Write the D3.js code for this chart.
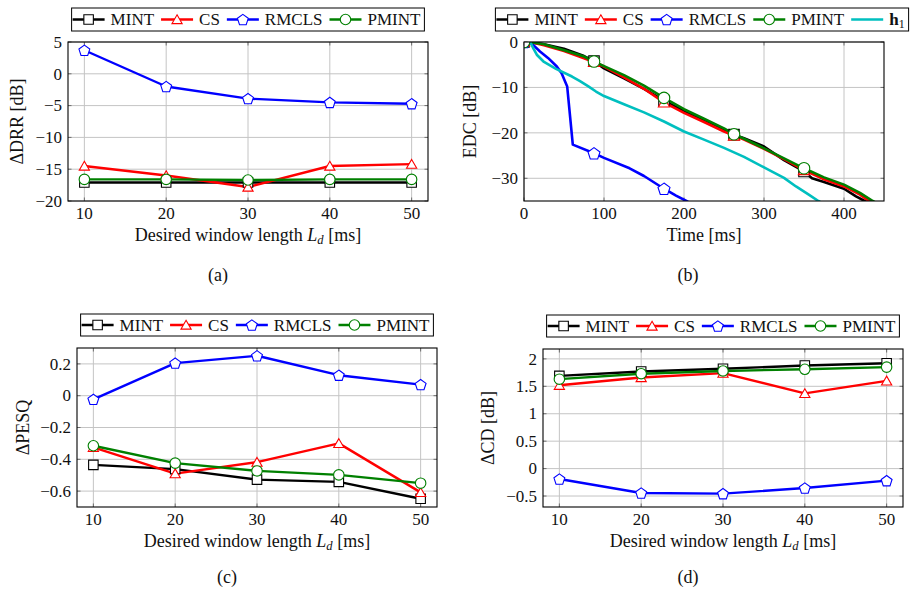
<!DOCTYPE html>
<html>
<head>
<meta charset="utf-8">
<script src="https://cdn.jsdelivr.net/npm/d3@7"></script>
<style>
  html, body { margin: 0; padding: 0; background: #fff; }
  svg text { font-family: "Liberation Serif", "DejaVu Serif", "Times New Roman", serif; }
</style>
</head>
<body>
<svg id="fig" width="913" height="589"></svg>
<script>
// ---------- data ----------
const windowLengths = [10, 20, 30, 40, 50];          // desired window length L_d [ms]

// (a) ΔDRR [dB]
const drrMint  = [-17.1, -17.1, -17.1, -17.1, -17.1];
const drrCs    = [-14.5, -16.0, -17.8, -14.5, -14.2];
const drrRmcls = [3.7, -2.0, -3.9, -4.5, -4.7];
const drrPmint = [-16.6, -16.6, -16.7, -16.6, -16.6];

// (c) ΔPESQ
const pesqMint  = [-0.435, -0.462, -0.528, -0.542, -0.648];
const pesqCs    = [-0.325, -0.490, -0.418, -0.300, -0.608];
const pesqRmcls = [-0.023, 0.205, 0.251, 0.129, 0.070];
const pesqPmint = [-0.315, -0.424, -0.473, -0.498, -0.550];

// (d) ΔCD [dB]
const cdMint  = [1.69, 1.77, 1.82, 1.88, 1.92];
const cdCs    = [1.52, 1.66, 1.74, 1.37, 1.60];
const cdRmcls = [-0.19, -0.445, -0.457, -0.354, -0.22];
const cdPmint = [1.63, 1.73, 1.78, 1.81, 1.85];

// (b) energy decay curves: time [ms] and EDC [dB]
const edcMarkTimes = [0, 87.5, 175, 262.5, 350];
const edcTimeMint = [0, 10, 25, 50, 75, 87.5, 100, 125, 150, 175, 200, 225, 250, 262.5, 275, 300, 325, 350, 360, 375, 400, 415, 426, 440];
const edcMint     = [0, -0.1, -0.5, -1.5, -3.1, -4.2, -5.8, -8.0, -10.3, -12.9, -15.2, -17.3, -19.5, -20.4, -21.2, -23.0, -26.0, -28.5, -30.0, -30.8, -32.3, -34.0, -35.0, -36.0];
const edcTimeCs   = [0, 10, 25, 50, 75, 87.5, 100, 125, 150, 175, 200, 225, 250, 262.5, 275, 300, 325, 350, 375, 400, 420, 431, 445];
const edcCs       = [0, -0.1, -0.7, -2.0, -3.6, -4.4, -5.4, -7.8, -10.3, -13.3, -15.6, -17.6, -19.7, -20.6, -21.5, -23.5, -25.8, -28.2, -30.2, -31.8, -33.6, -35.0, -36.2];
const edcTimeRmcls = [0, 10, 20, 30, 41, 47, 54, 61, 87.5, 100, 132, 150, 175, 190, 203, 262.5];
const edcRmcls     = [0, -0.4, -2.1, -3.5, -5.4, -6.9, -9.8, -22.6, -24.5, -25.5, -27.8, -29.5, -32.3, -33.8, -35.0, -41.0];
const edcTimePmint = [0, 10, 25, 50, 75, 87.5, 100, 125, 150, 175, 200, 225, 250, 262.5, 275, 300, 325, 350, 375, 400, 420, 436, 450];
const edcPmint     = [0, -0.1, -0.5, -1.8, -3.2, -4.3, -5.3, -7.3, -9.6, -12.3, -14.8, -16.9, -19.0, -20.3, -21.3, -23.4, -25.6, -27.8, -29.8, -31.4, -33.2, -35.0, -36.4];
const edcTimeH1 = [0, 8, 12, 16, 25, 40, 60, 70, 80, 90, 100, 125, 150, 175, 200, 225, 250, 275, 300, 325, 340, 355, 368, 380];
const edcH1     = [0, -0.1, -1.5, -2.8, -4.4, -5.9, -7.6, -8.6, -9.7, -10.9, -11.9, -13.7, -15.5, -17.5, -19.7, -21.5, -23.3, -25.3, -27.6, -29.9, -31.8, -33.5, -35.0, -36.2];

// tick values
const ldTicks   = [10, 20, 30, 40, 50];
const drrTicks  = [-20, -15, -10, -5, 0, 5];
const edcXTicks = [0, 100, 200, 300, 400];
const edcYTicks = [-30, -20, -10, 0];
const pesqTicks = [-0.6, -0.4, -0.2, 0, 0.2];
const cdTicks   = [-0.5, 0, 0.5, 1, 1.5, 2];

// ---------- styles ----------
const styles = {
  MINT:  { color: "#000000", mark: "square" },
  CS:    { color: "#ff0000", mark: "triangle" },
  RMCLS: { color: "#0000ff", mark: "pentagon" },
  PMINT: { color: "#008000", mark: "circle" },
  h1:    { color: "#00bfbf", mark: null }
};

const svg = d3.select("#fig");
const FONT = 17;
const SERIF = "'Liberation Serif', 'DejaVu Serif', serif";
const minus = s => s.replace(/-/g, "\u2212");

function markerPath(kind, size) {
  if (kind === "square") {
    const h = size / 2;
    return `M${-h},${-h}H${h}V${h}H${-h}Z`;
  }
  if (kind === "triangle") {
    const r = size * 0.62;
    const pts = [0, 1, 2].map(i => {
      const a = -Math.PI / 2 + i * 2 * Math.PI / 3;
      return [r * Math.cos(a), r * Math.sin(a) + r * 0.2];
    });
    return "M" + pts.map(p => p.join(",")).join("L") + "Z";
  }
  if (kind === "pentagon") {
    const r = size * 0.6;
    const pts = d3.range(5).map(i => {
      const a = -Math.PI / 2 + i * 2 * Math.PI / 5;
      return [r * Math.cos(a), r * Math.sin(a) + r * 0.1];
    });
    return "M" + pts.map(p => p.join(",")).join("L") + "Z";
  }
  if (kind === "circle") {
    const r = size * 0.55;
    return `M${r},0A${r},${r} 0 1,1 ${-r},0A${r},${r} 0 1,1 ${r},0Z`;
  }
  return "";
}

function drawMarker(g, kind, color, x, y, size) {
  if (!kind) return;
  g.append("path")
    .attr("d", markerPath(kind, size))
    .attr("transform", `translate(${x},${y})`)
    .attr("fill", "#fff")
    .attr("stroke", color)
    .attr("stroke-width", 1.1);
}

function addText(g, size) {
  return g.append("text").attr("font-family", SERIF).attr("font-size", size || FONT).attr("fill", "#111");
}

function drawLegend(centerX, top, height, names) {
  const g = svg.append("g");
  const box = g.append("rect");
  const sample = 32, gapAfterSample = 6, gapAfterText = 7, pad = 1;
  let x = pad;
  const mid = top + height / 2;
  names.forEach((name, i) => {
    const st = styles[name];
    const eg = g.append("g");
    eg.append("line")
      .attr("x1", x).attr("x2", x + sample)
      .attr("y1", mid).attr("y2", mid)
      .attr("stroke", st.color).attr("stroke-width", 2.6);
    drawMarker(eg, st.mark, st.color, x + sample / 2, mid, 9.5);
    x += sample + gapAfterSample;
    const t = addText(eg).attr("x", x).attr("y", mid + 5.7);
    if (name === "h1") {
      t.append("tspan").attr("font-weight", "bold").text("h");
      t.append("tspan").attr("font-size", FONT * 0.7).attr("dy", 3).text("1");
    } else {
      t.text(name);
    }
    x += t.node().getComputedTextLength() + (i < names.length - 1 ? gapAfterText : 4);
  });
  const width = x;
  g.selectAll("g").attr("transform", `translate(${centerX - width / 2},0)`);
  box.attr("x", centerX - width / 2).attr("y", top)
    .attr("width", width).attr("height", height)
    .attr("fill", "#fff").attr("stroke", "#000").attr("stroke-width", 1);
}

let clipId = 0;
function drawPanel(p) {
  const x = d3.scaleLinear().domain(p.xDomain).range([p.left, p.right]);
  const y = d3.scaleLinear().domain(p.yDomain).range([p.bottom, p.top]);
  const g = svg.append("g");

  // grid
  g.append("g").selectAll("line").data(p.xTicks).join("line")
    .attr("x1", d => x(d)).attr("x2", d => x(d))
    .attr("y1", p.top).attr("y2", p.bottom)
    .attr("stroke", "#c4c4c4").attr("stroke-width", 1);
  g.append("g").selectAll("line").data(p.yTicks).join("line")
    .attr("x1", p.left).attr("x2", p.right)
    .attr("y1", d => y(d)).attr("y2", d => y(d))
    .attr("stroke", "#c4c4c4").attr("stroke-width", 1);

  // inner tick marks on all four sides
  const tk = 3.5;
  const tickG = g.append("g").attr("stroke", "#555").attr("stroke-width", 0.8);
  p.xTicks.forEach(d => {
    tickG.append("line").attr("x1", x(d)).attr("x2", x(d)).attr("y1", p.bottom).attr("y2", p.bottom - tk);
    tickG.append("line").attr("x1", x(d)).attr("x2", x(d)).attr("y1", p.top).attr("y2", p.top + tk);
  });
  p.yTicks.forEach(d => {
    tickG.append("line").attr("x1", p.left).attr("x2", p.left + tk).attr("y1", y(d)).attr("y2", y(d));
    tickG.append("line").attr("x1", p.right).attr("x2", p.right - tk).attr("y1", y(d)).attr("y2", y(d));
  });

  // data
  const id = "clip" + (clipId++);
  svg.append("clipPath").attr("id", id).append("rect")
    .attr("x", p.left).attr("y", p.top)
    .attr("width", p.right - p.left).attr("height", p.bottom - p.top);
  const lines = g.append("g").attr("clip-path", `url(#${id})`);
  const marks = g.append("g").attr("clip-path", `url(#${id})`);
  const line = d3.line().x(d => x(d[0])).y(d => y(d[1]));
  p.series.forEach(s => {
    const st = styles[s.name];
    const pts = s.xs.map((v, i) => [v, s.ys[i]]);
    lines.append("path").datum(pts)
      .attr("d", line).attr("fill", "none")
      .attr("stroke", st.color).attr("stroke-width", p.lineWidth)
      .attr("stroke-linejoin", "round");
    const mk = s.markAt ? pts.filter(d => s.markAt.includes(d[0])) : pts;
    mk.forEach(d => drawMarker(marks, st.mark, st.color, x(d[0]), y(d[1]), p.markSize));
  });

  // frame
  g.append("rect").attr("x", p.left).attr("y", p.top)
    .attr("width", p.right - p.left).attr("height", p.bottom - p.top)
    .attr("fill", "none").attr("stroke", "#000").attr("stroke-width", 1.1);

  // tick labels
  p.xTicks.forEach(d => {
    addText(g).attr("x", x(d)).attr("y", p.bottom + 18)
      .attr("text-anchor", "middle").text(minus(p.xFormat(d)));
  });
  p.yTicks.forEach(d => {
    addText(g).attr("x", p.left - 6).attr("y", y(d) + 5.7)
      .attr("text-anchor", "end").text(minus(p.yFormat(d)));
  });

  // axis titles
  const LS = 18;
  const xl = addText(g, LS)
    .attr("x", (p.left + p.right) / 2).attr("y", p.bottom + 40)
    .attr("text-anchor", "middle");
  if (p.xLabel === "Ld") {
    xl.append("tspan").text("Desired window length ");
    xl.append("tspan").attr("font-style", "italic").text("L");
    xl.append("tspan").attr("font-style", "italic").attr("font-size", LS * 0.7).attr("dy", 3).text("d");
    xl.append("tspan").attr("dy", -3).text(" [ms]");
  } else {
    xl.text(p.xLabel);
  }
  addText(g, LS)
    .attr("transform", `translate(${p.yLabelX},${(p.top + p.bottom) / 2}) rotate(-90)`)
    .attr("text-anchor", "middle")
    .text(p.yLabel);

  // sub-figure caption
  addText(g, LS)
    .attr("x", p.captionX).attr("y", p.captionY)
    .attr("text-anchor", "middle")
    .text(p.caption);
}

const fmt = d3.format("");
const ldSeries = (m, c, r, pm) => [
  { name: "MINT", xs: windowLengths, ys: m },
  { name: "CS", xs: windowLengths, ys: c },
  { name: "RMCLS", xs: windowLengths, ys: r },
  { name: "PMINT", xs: windowLengths, ys: pm }
];

// (a)
drawPanel({
  left: 68, right: 428, top: 42, bottom: 201,
  xDomain: [8, 52], yDomain: [-20, 5],
  xTicks: ldTicks, yTicks: drrTicks, xFormat: fmt, yFormat: fmt,
  series: ldSeries(drrMint, drrCs, drrRmcls, drrPmint),
  lineWidth: 2.4, markSize: 9.5,
  xLabel: "Ld", yLabel: "\u0394DRR [dB]", yLabelX: 23,
  caption: "(a)", captionX: 218, captionY: 281
});
drawLegend(248, 8, 23, ["MINT", "CS", "RMCLS", "PMINT"]);

// (b)
drawPanel({
  left: 524, right: 884, top: 42, bottom: 201,
  xDomain: [0, 450], yDomain: [-35, 0],
  xTicks: edcXTicks, yTicks: edcYTicks, xFormat: fmt, yFormat: fmt,
  series: [
    { name: "MINT", xs: edcTimeMint, ys: edcMint, markAt: edcMarkTimes },
    { name: "CS", xs: edcTimeCs, ys: edcCs, markAt: edcMarkTimes },
    { name: "RMCLS", xs: edcTimeRmcls, ys: edcRmcls, markAt: edcMarkTimes },
    { name: "PMINT", xs: edcTimePmint, ys: edcPmint, markAt: edcMarkTimes },
    { name: "h1", xs: edcTimeH1, ys: edcH1 }
  ],
  lineWidth: 2.6, markSize: 10.5,
  xLabel: "Time [ms]", yLabel: "EDC [dB]", yLabelX: 476,
  caption: "(b)", captionX: 688, captionY: 281
});
drawLegend(702, 8, 23, ["MINT", "CS", "RMCLS", "PMINT", "h1"]);

// (c)
drawPanel({
  left: 77, right: 437, top: 348, bottom: 507,
  xDomain: [8, 52], yDomain: [-0.7, 0.3],
  xTicks: ldTicks, yTicks: pesqTicks, xFormat: fmt, yFormat: d3.format(".1~f"),
  series: ldSeries(pesqMint, pesqCs, pesqRmcls, pesqPmint),
  lineWidth: 2.4, markSize: 9.5,
  xLabel: "Ld", yLabel: "\u0394PESQ", yLabelX: 29,
  caption: "(c)", captionX: 227, captionY: 583
});
drawLegend(257, 314, 22, ["MINT", "CS", "RMCLS", "PMINT"]);

// (d)
drawPanel({
  left: 543, right: 903, top: 349, bottom: 507,
  xDomain: [8, 52], yDomain: [-0.7, 2.18],
  xTicks: ldTicks, yTicks: cdTicks, xFormat: fmt, yFormat: d3.format(".1~f"),
  series: ldSeries(cdMint, cdCs, cdRmcls, cdPmint),
  lineWidth: 2.4, markSize: 9.5,
  xLabel: "Ld", yLabel: "\u0394CD [dB]", yLabelX: 494,
  caption: "(d)", captionX: 688, captionY: 583
});
drawLegend(723, 315, 22, ["MINT", "CS", "RMCLS", "PMINT"]);
</script>
</body>
</html>
